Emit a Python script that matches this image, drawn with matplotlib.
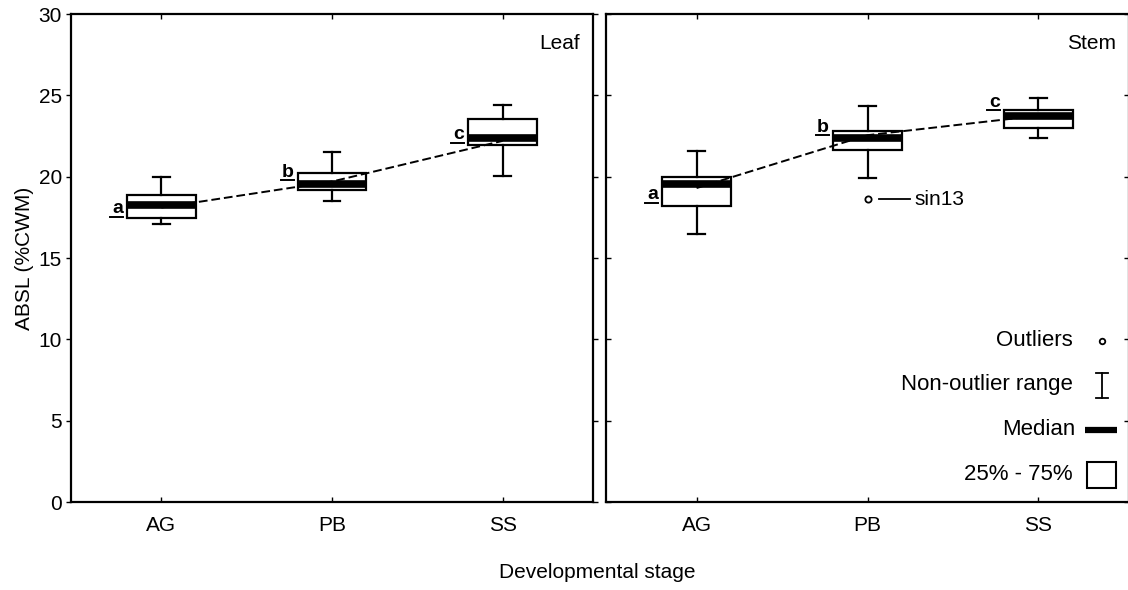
import matplotlib
matplotlib.use("Agg")
from matplotlib import pyplot as plt

plt.rcParams['font.family'] = ['Liberation Sans', 'DejaVu Sans']

stages = ['AG', 'PB', 'SS']
panels = ['Leaf', 'Stem']

# box statistics: whisker low, q1, median, q3, whisker high
leaf_low = [17.1, 18.5, 20.05]
leaf_q1 = [17.45, 19.15, 21.95]
leaf_med = [18.25, 19.55, 22.4]
leaf_q3 = [18.85, 20.2, 23.55]
leaf_high = [20.0, 21.5, 24.4]
leaf_mean = [18.1, 19.7, 22.2]
leaf_letters = ['a', 'b', 'c']

stem_low = [16.45, 19.9, 22.35]
stem_q1 = [18.2, 21.65, 23.0]
stem_med = [19.55, 22.4, 23.7]
stem_q3 = [19.95, 22.8, 24.1]
stem_high = [21.55, 24.35, 24.85]
stem_mean = [19.3, 22.55, 23.75]
stem_letters = ['a', 'b', 'c']
stem_outliers = [[], [18.6], []]
stem_outlier_name = 'sin13'

# height of the underline under each letter
leaf_letter_y = [17.55, 19.8, 22.1]
stem_letter_y = [18.4, 22.55, 24.1]

data = {
    'Leaf': (leaf_low, leaf_q1, leaf_med, leaf_q3, leaf_high, leaf_mean,
             leaf_letters, [[], [], []], leaf_letter_y),
    'Stem': (stem_low, stem_q1, stem_med, stem_q3, stem_high, stem_mean,
             stem_letters, stem_outliers, stem_letter_y),
}

FS = 15
LFS = 16
W, H = 1128, 590
fig = plt.figure(figsize=(W / 100, H / 100), dpi=100)
ax1 = fig.add_axes([71 / W, (H - 502) / H, 522 / W, 488 / H])
ax2 = fig.add_axes([606 / W, (H - 502) / H, 523 / W, 488 / H])

pos = [1, 2, 3]
for ax, name in zip([ax1, ax2], panels):
    low, q1, med, q3, high, mean, letters, fl, ly = data[name]
    stats = []
    for i in range(3):
        stats.append(dict(whislo=low[i], q1=q1[i], med=med[i], q3=q3[i],
                          whishi=high[i], fliers=fl[i]))
    ax.bxp(stats, positions=pos, widths=0.4, patch_artist=True,
           capwidths=0.095,
           boxprops=dict(facecolor='white', edgecolor='black', linewidth=1.6),
           medianprops=dict(color='black', linewidth=5.5, solid_capstyle='butt'),
           whiskerprops=dict(color='black', linewidth=1.6),
           capprops=dict(color='black', linewidth=1.6),
           flierprops=dict(marker='o', markersize=4.5, markerfacecolor='white',
                           markeredgecolor='black', markeredgewidth=1.3))
    ax.plot(pos, mean, color='black', linestyle=(0, (4.5, 2)), linewidth=1.4, zorder=5)
    # significance letters (bold, underlined), left of each box
    for i in range(3):
        x = pos[i] - 0.225
        ax.text(x, ly[i] + 0.2, letters[i], ha='right', va='baseline',
                fontsize=14, fontweight='bold')
        ax.plot([x - 0.075, x], [ly[i], ly[i]], color='black', linewidth=1.4)
    ax.set_xlim(0.47, 3.53)
    ax.set_ylim(0, 30)
    ax.set_yticks([0, 5, 10, 15, 20, 25, 30])
    ax.set_xticks(pos)
    ax.set_xticklabels(stages, fontsize=FS)
    ax.tick_params(axis='both', direction='in', length=3.5, width=1,
                   top=True, right=True, labelsize=FS, pad=10)
    for sp in ax.spines.values():
        sp.set_linewidth(1.6)
    ax.text(0.975, 0.94, name, transform=ax.transAxes, ha='right', va='center',
            fontsize=FS)

ax1.tick_params(axis='y', which='both', left=True, direction='out', pad=3)
ax2.tick_params(axis='y', labelleft=False)

ax1.set_ylabel('ABSL (%CWM)', fontsize=FS, labelpad=3)
fig.text(597 / W, 1 - 572 / H, 'Developmental stage', ha='center', va='center',
         fontsize=FS)

# outlier label
ax2.plot([2.066, 2.247], [stem_outliers[1][0]] * 2, color='black', linewidth=1.3)
ax2.text(2.275, stem_outliers[1][0], stem_outlier_name, ha='left', va='center',
         fontsize=FS)

# key in the lower right of the stem panel
t = ax2.transAxes
ax2.text(0.893, 0.33, 'Outliers', transform=t, ha='right', va='center', fontsize=LFS)
ax2.plot([0.948], [0.33], transform=t, marker='o', markersize=4, markerfacecolor='white',
         markeredgecolor='black', markeredgewidth=1.3, clip_on=False)
ax2.text(0.893, 0.24, 'Non-outlier range', transform=t, ha='right', va='center', fontsize=LFS)
ax2.plot([0.948, 0.948], [0.213, 0.264], transform=t, color='black', linewidth=1.3)
ax2.plot([0.937, 0.959], [0.213, 0.213], transform=t, color='black', linewidth=1.3)
ax2.plot([0.937, 0.959], [0.264, 0.264], transform=t, color='black', linewidth=1.3)
ax2.text(0.897, 0.148, 'Median', transform=t, ha='right', va='center', fontsize=LFS)
ax2.plot([0.916, 0.977], [0.148, 0.148], transform=t, color='black', linewidth=4.5,
         solid_capstyle='butt')
ax2.text(0.893, 0.056, '25% - 75%', transform=t, ha='right', va='center', fontsize=LFS)
ax2.add_patch(plt.Rectangle((0.92, 0.029), 0.055, 0.053, transform=t, facecolor='white',
                            edgecolor='black', linewidth=1.5))

fig.savefig('out.png', dpi=100)
